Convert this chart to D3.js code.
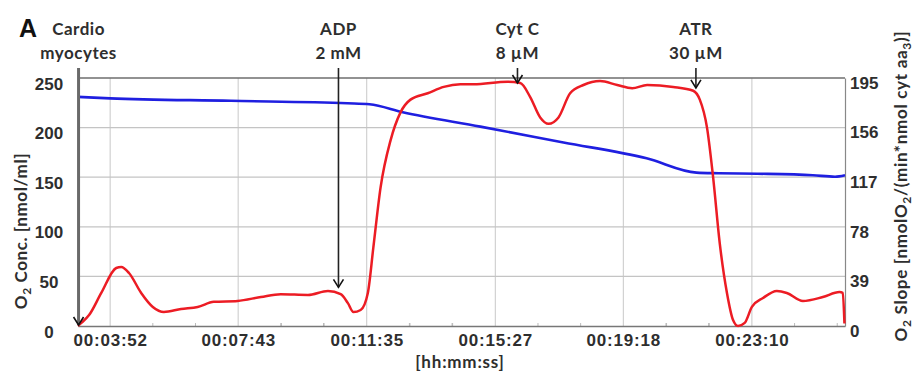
<!DOCTYPE html>
<html><head><meta charset="utf-8">
<script src="https://cdn.jsdelivr.net/npm/d3@7"></script>
<style>
html,body{margin:0;padding:0;background:#fff;}
svg{display:block;font-family:Lato,"Open Sans",sans-serif;}
</style></head>
<body><svg id="chart" width="913" height="371"></svg>
<script>
// ---- data ----
const timeTicks = [232, 463, 695, 927, 1158, 1390];
const timeTickLabels = ["00:03:52","00:07:43","00:11:35","00:15:27","00:19:18","00:23:10"];
const concTicks = [0, 50, 100, 150, 200, 250];
const slopeTicks = [0, 39, 78, 117, 156, 195];

const concTime   = [174, 232, 450, 660, 700, 760, 900, 1050, 1200, 1290, 1330, 1400, 1500, 1540, 1558];
const concValues = [231, 229.5, 227, 224.5, 223.5, 215.5, 201, 185, 169, 154.6, 154, 153.5, 152, 150.5, 152];

const slopeTime = [174,180,194,216,243,252,266,288,309,329,360,390,419,462,504,540,589,625,648,661,671,684,697,707,720,738,756,774,805,834,864,888,949,972,990,1008,1023,1041,1062,1086,1116,1147,1174,1201,1248,1284,1296,1309,1320,1332,1345,1356,1365,1377,1390,1410,1435,1453,1482,1518,1548,1554,1557];
const slopeValues = [0,2.4,8.6,26,45.6,46.4,41.7,26,15,11,13.4,15,19,19.7,22.8,25,24.4,27.5,25,18,11,12.6,26,62,109,146,168,178,183,188,190,190,192,191,180,164,159,164,183,189.5,192.6,189.5,187,189.5,188,185,178,156,117,65,26,4.7,0,2.4,15,22,27.5,26,19.7,22.8,26.7,26,2];

const eventNames = [["Cardio","myocytes"],["ADP","2 mM"],["Cyt C","8 µM"],["ATR","30 µM"]];
const eventTimes = [175, 644, 967, 1289];
const eventTips  = [1, 39, 245, 240];   // arrow tip level on O2 conc. axis

// ---- layout ----
const svg = d3.select("#chart");
const L = 78, R = 845, T = 78, B = 326;
const x = d3.scaleLinear().domain([174, 1558]).range([L, R]);
const yL = d3.scaleLinear().domain([0, 250]).range([B, T]);
const yR = d3.scaleLinear().domain([0, 195]).range([B, T]);
const txtCol = "#2e2e2e";

// grid
const g = svg.append("g");
g.selectAll(".vg").data(timeTicks).enter().append("line")
  .attr("x1", d => x(d)).attr("x2", d => x(d)).attr("y1", T).attr("y2", B)
  .attr("stroke", "#c8c8c8").attr("stroke-width", 1);
g.selectAll(".hg").data(concTicks.slice(1)).enter().append("line")
  .attr("x1", L).attr("x2", R).attr("y1", d => yL(d)).attr("y2", d => yL(d))
  .attr("stroke", d => d === 250 ? "#6e6e6e" : "#c4c4c4").attr("stroke-width", d => d === 250 ? 1.5 : 1.2);

// minor ticks on time axis
const step = (timeTicks[1] - timeTicks[0]) / 3;
const minorT = [];
timeTicks.forEach(t => { [-2, -1, 1, 2].forEach(k => minorT.push(Math.round(t + k * step))); });
const minorU = Array.from(new Set(minorT)).filter(v => v > 180 && v < 1550 && !timeTicks.includes(v));
g.selectAll(".mt").data(minorU).enter().append("line")
  .attr("x1", d => x(d)).attr("x2", d => x(d)).attr("y1", B - 3).attr("y2", B)
  .attr("stroke", "#bbb").attr("stroke-width", 1);

const xAxis = d3.axisBottom(x).tickValues(timeTicks).tickFormat((d, i) => timeTickLabels[i]).tickSize(0).tickPadding(8);
const xa = svg.append("g").attr("transform", `translate(0,${B})`).call(xAxis);
xa.select(".domain").attr("stroke", "#777").attr("stroke-width", 1.5);
xa.selectAll("text").attr("font-size", 17).attr("font-weight", "bold").attr("fill", txtCol).attr("letter-spacing", "0.8px");

// left axis labels
const yAxisL = d3.axisLeft(yL).tickValues(concTicks).tickSize(0).tickPadding(0);
const ya = svg.append("g").attr("transform", `translate(49,0)`).call(yAxisL);
ya.select(".domain").remove();
ya.selectAll("text").attr("text-anchor", "middle").attr("dy", "0.65em").attr("font-size", 17).attr("font-weight", "bold").attr("fill", txtCol);

// right axis
const yAxisR = d3.axisRight(yR).tickValues(slopeTicks).tickSize(0).tickPadding(5);
const yr = svg.append("g").attr("transform", `translate(${R},0)`).call(yAxisR);
yr.select(".domain").attr("stroke", "#888").attr("stroke-width", 1.2);
yr.selectAll("text").attr("dy", "0.6em").attr("font-size", 17).attr("font-weight", "bold").attr("fill", txtCol);

// lines
const concLine = d3.line().x((d, i) => x(concTime[i])).y(d => yL(d)).curve(d3.curveMonotoneX);
svg.append("path").datum(concValues).attr("d", concLine)
  .attr("fill", "none").attr("stroke", "#1f1fe0").attr("stroke-width", 2.6);
const slopeLine = d3.line().x((d, i) => x(slopeTime[i])).y(d => yR(d)).curve(d3.curveMonotoneX);
svg.append("path").datum(slopeValues).attr("d", slopeLine)
  .attr("fill", "none").attr("stroke", "#ec1c24").attr("stroke-width", 2.5).attr("stroke-linejoin", "round");

// event arrows
eventTimes.forEach((t, i) => {
  const ex = x(t), tip = yL(eventTips[i]);
  const top = 68;
  const isFirst = i === 0;
  svg.append("line").attr("x1", ex).attr("x2", ex).attr("y1", top).attr("y2", tip)
    .attr("stroke", isFirst ? "#6a6a6a" : "#222").attr("stroke-width", isFirst ? 3 : 1.6);
  svg.append("path").attr("d", `M${ex - 5},${tip - 8}L${ex},${tip}L${ex + 5},${tip - 8}`)
    .attr("fill", "none").attr("stroke", "#111").attr("stroke-width", 1.6);
  const tx = svg.append("text").attr("x", ex).attr("text-anchor", "middle")
    .attr("font-size", 17).attr("font-weight", "bold").attr("fill", txtCol).attr("letter-spacing", "0.5px");
  tx.append("tspan").attr("x", ex).attr("y", 35).text(eventNames[i][0]);
  tx.append("tspan").attr("x", ex).attr("y", 59).text(eventNames[i][1]);
});

// panel letter
svg.append("text").attr("x", 19).attr("y", 37).text("A")
  .attr("font-family", "'Liberation Sans',Arial,sans-serif").attr("font-weight", "bold").attr("font-size", 25).attr("fill", "#111");

// axis titles
const lt = svg.append("text").attr("transform", "translate(27,231) rotate(-90)").attr("text-anchor", "middle")
  .attr("font-size", 17).attr("font-weight", "bold").attr("fill", txtCol).attr("letter-spacing", "0.6px");
lt.append("tspan").text("O");
lt.append("tspan").attr("font-size", 12).attr("dy", 4).text("2");
lt.append("tspan").attr("dy", -4).text(" Conc.  [nmol/ml]");

const rt = svg.append("text").attr("transform", "translate(907,186) rotate(-90)").attr("text-anchor", "middle")
  .attr("font-size", 17).attr("font-weight", "bold").attr("fill", txtCol).attr("letter-spacing", "0.7px");
rt.append("tspan").text("O");
rt.append("tspan").attr("font-size", 12).attr("dy", 4).text("2");
rt.append("tspan").attr("dy", -4).text(" Slope  [nmolO");
rt.append("tspan").attr("font-size", 12).attr("dy", 4).text("2");
rt.append("tspan").attr("dy", -4).text("/(min*nmol cyt aa");
rt.append("tspan").attr("font-size", 12).attr("dy", 4).text("3");
rt.append("tspan").attr("dy", -4).text(")]");

svg.append("text").attr("x", 460).attr("y", 368).attr("text-anchor", "middle")
  .attr("font-size", 17).attr("font-weight", "bold").attr("fill", txtCol).attr("letter-spacing", "0.8px").text("[hh:mm:ss]");
</script></body></html>
